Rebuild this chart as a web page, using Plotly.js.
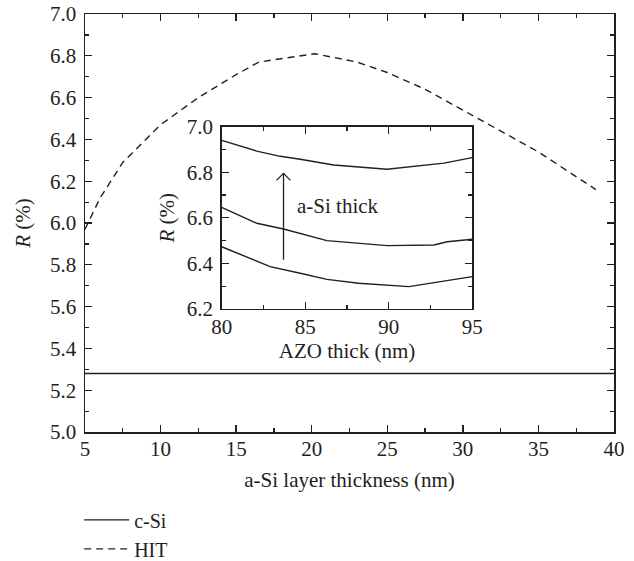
<!DOCTYPE html>
<html>
<head>
<meta charset="utf-8">
<script src="https://cdn.plot.ly/plotly-3.0.1.min.js"></script>
<style>html,body{margin:0;padding:0;background:#fff;}#chart{width:634px;height:561px;}</style>
</head>
<body>
<div id="chart"></div>
<script>
// Main chart data
const cSiX = [5, 40];
const cSiR = [5.28, 5.28];
const hitX = [5, 6, 7.5, 10, 12.5, 15, 16.5, 20.2, 23, 25, 27.5, 30, 32.5, 35, 38.8];
const hitR = [5.97, 6.12, 6.29, 6.47, 6.60, 6.71, 6.77, 6.81, 6.77, 6.72, 6.64, 6.54, 6.44, 6.34, 6.16];

// Inset data (AZO thickness)
const azoTopX = [80, 82.1, 83.5, 84.7, 86.7, 89.9, 93.3, 95];
const azoTopR = [6.94, 6.893, 6.87, 6.857, 6.832, 6.813, 6.84, 6.864];
const azoMidX = [80, 82.1, 83.7, 84.7, 86.3, 89.9, 92.7, 93.5, 95];
const azoMidR = [6.646, 6.576, 6.551, 6.532, 6.50, 6.478, 6.481, 6.495, 6.506];
const azoLowX = [80, 82.9, 84.7, 86.3, 88.2, 91.2, 95];
const azoLowR = [6.473, 6.386, 6.357, 6.33, 6.313, 6.298, 6.342];

// Arrow in inset (a-Si thickness increasing)
const arrowX = 83.7;
const arrowFromR = 6.41;
const arrowToR = 6.795;

const ink = '#231f20';
const font = {family: '"Liberation Serif", "DejaVu Serif", serif', size: 21, color: ink};
const legendFont = {family: '"Liberation Serif", "DejaVu Serif", serif', size: 20, color: ink};

const traces = [
  {x: cSiX, y: cSiR, name: 'c-Si', mode: 'lines', line: {color: ink, width: 1.4}, xaxis: 'x', yaxis: 'y'},
  {x: hitX, y: hitR, name: 'HIT', mode: 'lines', line: {color: ink, width: 1.4, dash: '7px,5px'}, xaxis: 'x', yaxis: 'y'},
  {x: azoTopX, y: azoTopR, mode: 'lines', showlegend: false, line: {color: ink, width: 1.4}, xaxis: 'x2', yaxis: 'y2'},
  {x: azoMidX, y: azoMidR, mode: 'lines', showlegend: false, line: {color: ink, width: 1.4}, xaxis: 'x2', yaxis: 'y2'},
  {x: azoLowX, y: azoLowR, mode: 'lines', showlegend: false, line: {color: ink, width: 1.4}, xaxis: 'x2', yaxis: 'y2'}
];

const axisCommon = {
  showline: true, linecolor: ink, linewidth: 1.5, mirror: 'allticks',
  ticks: 'inside', ticklen: 7, tickwidth: 1.3, tickcolor: ink,
  showgrid: false, zeroline: false, tickfont: font
};
const minorX = {dtick: 2.5, ticklen: 4, tickcolor: ink, tickwidth: 1.2, ticks: 'inside'};
const minorY = {dtick: 0.1, ticklen: 4, tickcolor: ink, tickwidth: 1.2, ticks: 'inside'};

const layout = {
  width: 634, height: 561,
  margin: {l: 85, r: 20, t: 14, b: 129},
  paper_bgcolor: '#fff', plot_bgcolor: '#fff',
  font: font,
  showlegend: true,
  legend: {x: -0.011, xref: 'paper', y: 0.108, yref: 'container', xanchor: 'left', yanchor: 'top',
           itemwidth: 45, font: legendFont, bgcolor: 'rgba(0,0,0,0)', tracegroupgap: 0},
  xaxis: Object.assign({}, axisCommon, {
    range: [5, 40], dtick: 5, tick0: 5, ticklabelstandoff: -3, minor: minorX,
    title: {text: 'a-Si layer thickness (nm)', font: font, standoff: 12}
  }),
  yaxis: Object.assign({}, axisCommon, {
    range: [5.0, 7.0], dtick: 0.2, tickformat: '.1f', ticklabelstandoff: 3, minor: minorY,
    title: {text: '<i>R</i> (%)', font: font, standoff: 13}
  }),
  xaxis2: Object.assign({}, axisCommon, {
    domain: [0.2584, 0.7321], anchor: 'y2',
    range: [80, 95], dtick: 5, tick0: 80, ticklabelstandoff: -2, minor: minorX,
    title: {text: 'AZO thick (nm)', font: font, standoff: 4}
  }),
  yaxis2: Object.assign({}, axisCommon, {
    domain: [0.2943, 0.7304], anchor: 'x2',
    range: [6.2, 7.0], dtick: 0.2, tickformat: '.1f', ticklabelstandoff: 3, minor: minorY,
    title: {text: '<i>R</i> (%)', font: font, standoff: 6}
  }),
  annotations: [
    {x: arrowX, y: arrowToR, ax: arrowX, ay: arrowFromR, xref: 'x2', yref: 'y2', axref: 'x2', ayref: 'y2',
     showarrow: true, arrowhead: 0, arrowwidth: 1.3, arrowcolor: ink, text: ''},
    {x: 84.4, y: 6.65, xref: 'x2', yref: 'y2', xanchor: 'left', yanchor: 'middle',
     text: 'a-Si thick', showarrow: false, font: font}
  ],
  shapes: [
    {type: 'path', xref: 'x2', yref: 'y2', xsizemode: 'pixel', ysizemode: 'pixel',
     xanchor: arrowX, yanchor: arrowToR, path: 'M-7,-7 L0,0 L7,-7',
     line: {color: ink, width: 1.3}}
  ]
};

Plotly.newPlot('chart', traces, layout, {displayModeBar: false, staticPlot: true});
</script>
</body>
</html>
